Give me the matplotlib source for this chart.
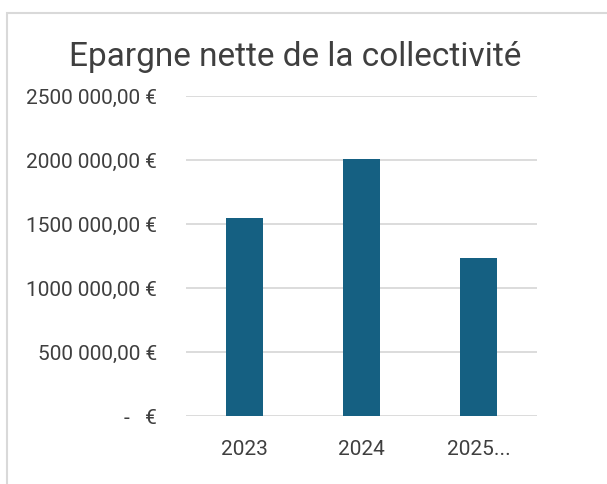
import matplotlib
matplotlib.use("Agg")
import matplotlib.pyplot as plt
from matplotlib.patches import Rectangle
from matplotlib.ticker import FuncFormatter

# data
years = ["2023", "2024", "2025..."]
epargne = [1546000, 2008000, 1232000]
y_ticks = [0, 500000, 1000000, 1500000, 2000000, 2500000]

BAR_COLOR = "#156082"
GRID_COLOR = "#D9D9D9"
TEXT_COLOR = "#3F3F3F"

plt.rcParams['font.family'] = ['Roboto', 'DejaVu Sans']


def euro_fmt(v, pos):
    # Excel style: "2500 000,00 €", zero shown as "-   €"
    if v == 0:
        return "-   €"
    millions = int(v) // 1000000
    rest = int(v) % 1000000
    if millions:
        s = f"{millions}{rest:06d}"
        s = s[:-3] + " " + s[-3:]
    else:
        s = f"{rest // 1000} {rest % 1000:03d}"
    return s + ",00 €"


fig = plt.figure(figsize=(6.07, 4.84), dpi=100)
ax = fig.add_axes([186 / 607, 1 - 416 / 484, 351 / 607, 320 / 484])

x = range(len(years))
ax.bar(x, epargne, width=0.316, color=BAR_COLOR, zorder=3)

ax.set_xlim(-0.5, len(years) - 0.5)
ax.set_ylim(0, 2500000)
ax.set_yticks(y_ticks)
ax.yaxis.set_major_formatter(FuncFormatter(euro_fmt))
ax.set_xticks(list(x))
ax.set_xticklabels(years)

ax.grid(axis="y", color=GRID_COLOR, linewidth=1.3, zorder=0)
for sp in ax.spines.values():
    sp.set_visible(False)
ax.tick_params(axis="both", length=0, labelsize=15, colors=TEXT_COLOR)
ax.tick_params(axis="y", pad=21)
ax.tick_params(axis="x", pad=17)

fig.text(295 / 607, 1 - 57 / 484, "Epargne nette de la collectivité",
         ha="center", va="center", fontsize=24, color=TEXT_COLOR)

# chart area border (cut by the image edge)
fig.patches.append(Rectangle((7 / 607, -0.1), 1.0, 1 - 13 / 484 + 0.1,
                             transform=fig.transFigure, fill=False,
                             edgecolor=GRID_COLOR, linewidth=1.5))

fig.savefig("out.png", dpi=100)
